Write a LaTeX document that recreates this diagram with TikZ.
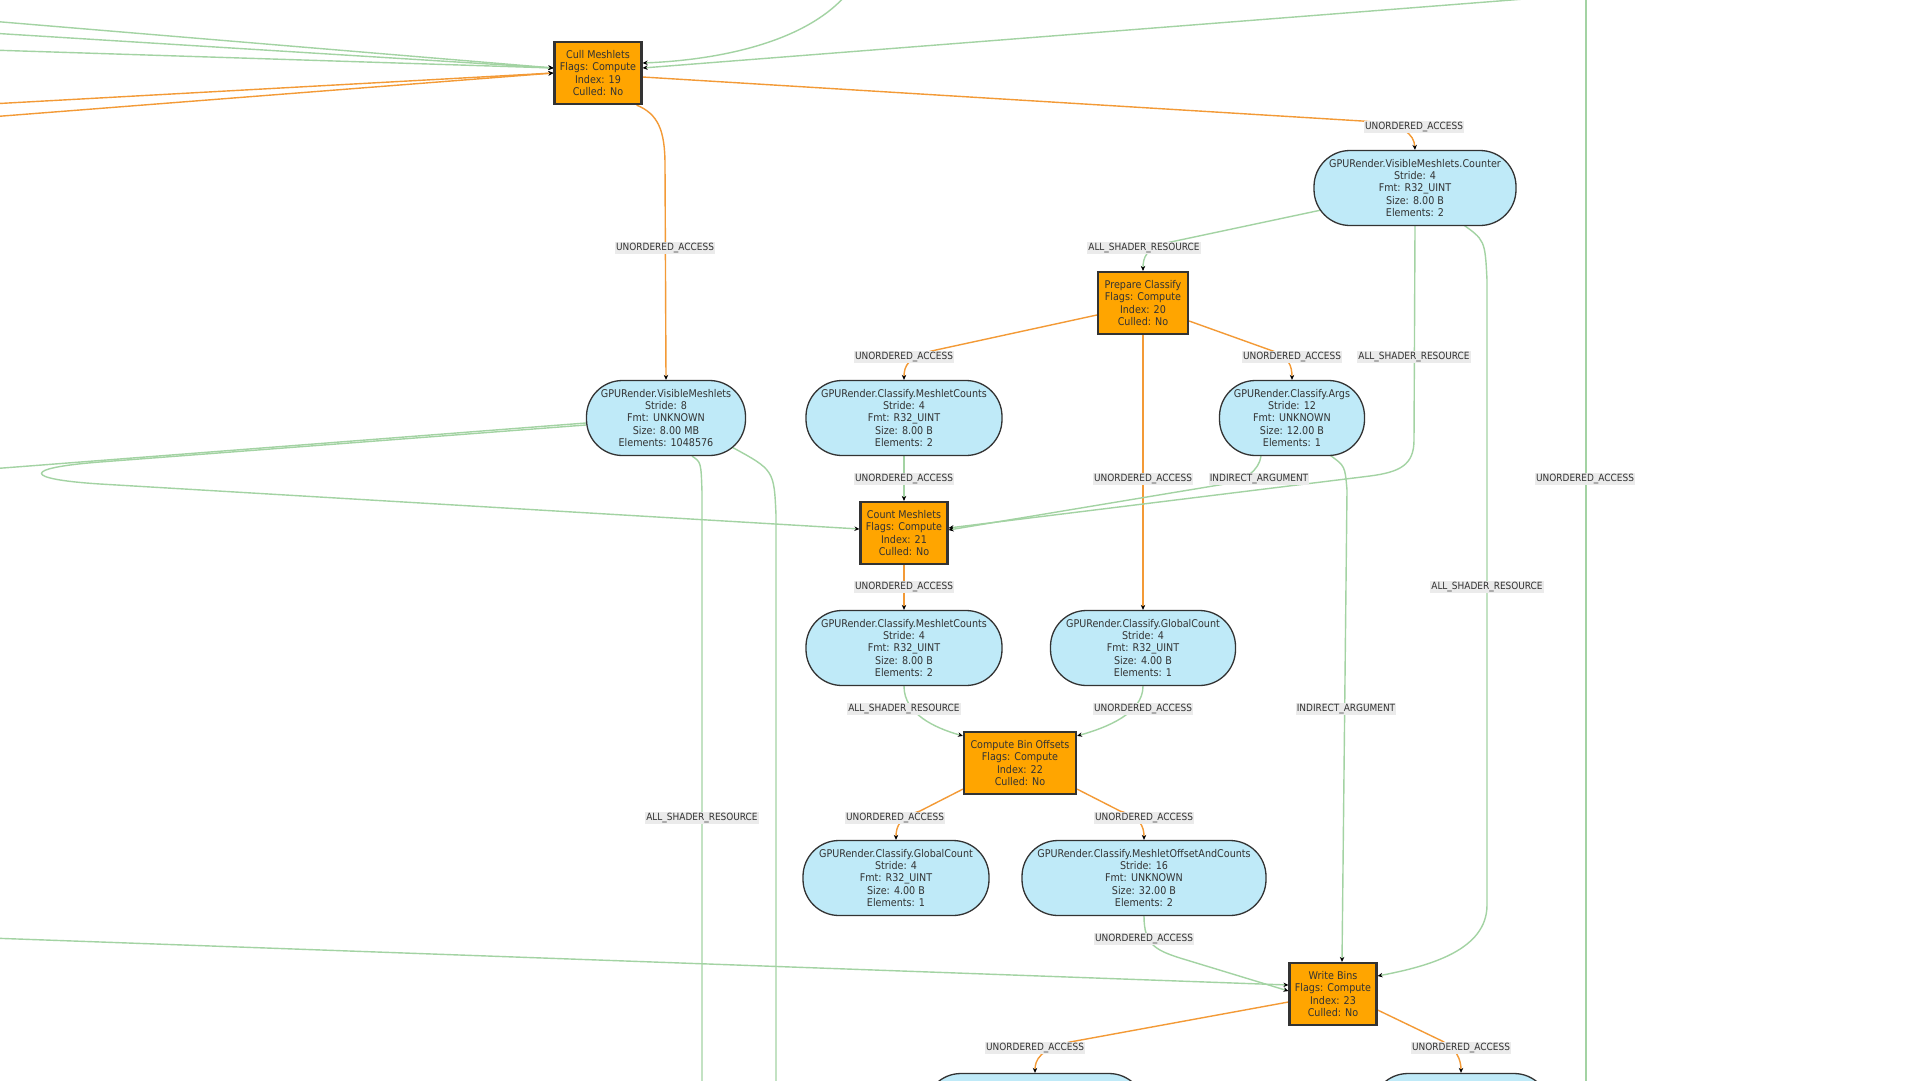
\documentclass[tikz,border=0pt]{standalone}
\usepackage{fontspec}
\setmainfont{DejaVu Sans Condensed}
\usetikzlibrary{arrows.meta,calc}
\definecolor{orfill}{HTML}{FFA500}
\definecolor{buffill}{HTML}{BFEAF8}
\definecolor{nborder}{HTML}{333333}
\definecolor{textc}{HTML}{333333}
\definecolor{edgeor}{HTML}{F39A36}
\definecolor{edgegr}{HTML}{A3D3A3}
\definecolor{lblbg}{HTML}{EBEBEB}
\newcommand\ndfont{\fontsize{10.7}{12.4}\selectfont}
\newcommand\lbfont{\fontsize{10}{11.5}\selectfont}
\pgfdeclarelayer{edgelayer}
\pgfsetlayers{edgelayer,main}
\tikzset{
  comp/.style={draw=nborder, line width=2.2bp, fill=orfill, text=textc, align=center,
    inner sep=0pt, font=\ndfont, minimum height=62bp},
  buf/.style={draw=nborder, line width=1.3bp, fill=buffill, rounded corners=36bp, align=center,
    inner sep=0pt, font=\ndfont, text=textc, minimum height=75bp},
  lbl/.style={fill=lblbg, text=textc, font=\lbfont, inner sep=1.2bp},
  oe/.style={draw=edgeor, line width=1.4bp, -{Stealth[length=5bp,width=4.5bp,color=black]}},
  ge/.style={draw=edgegr, line width=1.4bp, -{Stealth[length=5bp,width=4.5bp,color=black]}},
}
\begin{document}
\begin{tikzpicture}[x=1bp,y=-1bp]
\useasboundingbox (0,0) rectangle (1920,1080);
\clip (0,0) rectangle (1920,1080);

% ---------- nodes ----------
\node[comp, minimum width=87bp] (cull) at (598,73) {Cull Meshlets\\Flags: Compute\\Index: 19\\Culled: No};
\node[buf, minimum width=202bp] (counter) at (1415,188) {GPURender.VisibleMeshlets.Counter\\Stride: 4\\Fmt: R32\_UINT\\Size: 8.00 B\\Elements: 2};
\node[comp, minimum width=90bp] (prep) at (1143,303) {Prepare Classify\\Flags: Compute\\Index: 20\\Culled: No};
\node[buf, minimum width=159bp] (vis) at (666,418) {GPURender.VisibleMeshlets\\Stride: 8\\Fmt: UNKNOWN\\Size: 8.00 MB\\Elements: 1048576};
\node[buf, minimum width=196bp] (mc1) at (904,418) {GPURender.Classify.MeshletCounts\\Stride: 4\\Fmt: R32\_UINT\\Size: 8.00 B\\Elements: 2};
\node[buf, minimum width=145bp] (args) at (1292,418) {GPURender.Classify.Args\\Stride: 12\\Fmt: UNKNOWN\\Size: 12.00 B\\Elements: 1};
\node[comp, minimum width=87bp] (count) at (904,533) {Count Meshlets\\Flags: Compute\\Index: 21\\Culled: No};
\node[buf, minimum width=196bp] (mc2) at (904,648) {GPURender.Classify.MeshletCounts\\Stride: 4\\Fmt: R32\_UINT\\Size: 8.00 B\\Elements: 2};
\node[buf, minimum width=185bp] (gc1) at (1143,648) {GPURender.Classify.GlobalCount\\Stride: 4\\Fmt: R32\_UINT\\Size: 4.00 B\\Elements: 1};
\node[comp, minimum width=112bp] (cbo) at (1020,763) {Compute Bin Offsets\\Flags: Compute\\Index: 22\\Culled: No};
\node[buf, minimum width=186bp] (gc2) at (896,878) {GPURender.Classify.GlobalCount\\Stride: 4\\Fmt: R32\_UINT\\Size: 4.00 B\\Elements: 1};
\node[buf, minimum width=244bp] (moc) at (1144,878) {GPURender.Classify.MeshletOffsetAndCounts\\Stride: 16\\Fmt: UNKNOWN\\Size: 32.00 B\\Elements: 2};
\node[comp, minimum width=87bp] (wb) at (1333,994) {Write Bins\\Flags: Compute\\Index: 23\\Culled: No};
\node[buf, minimum width=220bp] (bl) at (1035,1111) {};
\node[buf, minimum width=178bp] (br) at (1461,1111) {};

% free ends
\coordinate (inG1) at (-10,21);
\coordinate (inG2) at (-10,33);
\coordinate (inG3) at (-10,50);
\coordinate (inO1) at (-10,104);
\coordinate (inO2) at (-10,117);
\coordinate (topA) at (846,-5);
\coordinate (topB) at (1550,-3);
\coordinate (visL) at (-10,469);
\coordinate (dn1) at (702,1100);
\coordinate (dn2) at (776,1100);
\coordinate (vtop) at (1586,-10);
\coordinate (vbot) at (1586,1100);
\coordinate (inL) at (-10,938);

% ---------- labels ----------
\node[lbl] (l1) at (1414,127) {UNORDERED\_ACCESS};
\node[lbl] (l2) at (665,248) {UNORDERED\_ACCESS};
\node[lbl] (l3) at (1144,248) {ALL\_SHADER\_RESOURCE};
\node[lbl] (l4) at (904,357) {UNORDERED\_ACCESS};
\node[lbl] (l5) at (1292,357) {UNORDERED\_ACCESS};
\node[lbl] (l6) at (1414,357) {ALL\_SHADER\_RESOURCE};
\node[lbl] (l7) at (904,479) {UNORDERED\_ACCESS};
\node[lbl] (l8) at (1143,479) {UNORDERED\_ACCESS};
\node[lbl] (l9) at (1259,479) {INDIRECT\_ARGUMENT};
\node[lbl] (l10) at (1585,479) {UNORDERED\_ACCESS};
\node[lbl] (l11) at (904,587) {UNORDERED\_ACCESS};
\node[lbl] (l12) at (1487,587) {ALL\_SHADER\_RESOURCE};
\node[lbl] (l13) at (904,709) {ALL\_SHADER\_RESOURCE};
\node[lbl] (l14) at (1143,709) {UNORDERED\_ACCESS};
\node[lbl] (l15) at (1346,709) {INDIRECT\_ARGUMENT};
\node[lbl] (l16) at (702,818) {ALL\_SHADER\_RESOURCE};
\node[lbl] (l17) at (895,818) {UNORDERED\_ACCESS};
\node[lbl] (l18) at (1144,818) {UNORDERED\_ACCESS};
\node[lbl] (l19) at (1144,939) {UNORDERED\_ACCESS};
\node[lbl] (l20) at (1035,1048) {UNORDERED\_ACCESS};
\node[lbl] (l21) at (1461,1048) {UNORDERED\_ACCESS};

% ---------- edges ----------
\begin{pgfonlayer}{edgelayer}
\clip (0,0) rectangle (1920,1080);
\fill[white] (0,0) rectangle (1920,1080);
% into Cull Meshlets from the left
\draw[ge] (inG1) -- ($(cull.west)+(0,-5)$);
\draw[ge] (inG2) -- ($(cull.west)+(0,-5)$);
\draw[ge] (inG3) -- ($(cull.west)+(0,-5)$);
\draw[oe] (inO1) -- ($(cull.west)+(0,0)$);
\draw[oe] (inO2) -- ($(cull.west)+(0,0)$);
% into Cull Meshlets from the top right
\draw[ge] (topA) .. controls (805,42) and (720,60) .. ($(cull.east)+(0,-10)$);
\draw[ge] (topB) -- ($(cull.east)+(0,-5)$);
% Cull -> Counter
\draw[oe] ($(cull.east)+(0,4)$) -- (1362,121) .. controls (1404,124) and (1414,134) .. (counter.north);
% Cull -> VisibleMeshlets
\draw[oe] ($(cull.south east)+(-6,0)$) .. controls (658,114) and (665,130) .. (665,165) -- (vis.north);
% Counter -> Prepare
\draw[ge] ($(counter.west)+(8,22)$) -- (1166,243) .. controls (1146,248) and (1143,258) .. (prep.north);
% Prepare -> MeshletCounts / Args / GlobalCount
\draw[oe] ($(prep.west)+(0,12)$) -- (936,350) .. controls (908,356) and (904,366) .. (mc1.north);
\draw[oe] ($(prep.east)+(0,18)$) -- (1270,350) .. controls (1289,356) and (1292,366) .. (args.north);
\draw[oe] (prep.south) -- (gc1.north);
% MeshletCounts -> Count Meshlets
\draw[ge] (mc1.south) -- (count.north);
% Count -> MeshletCounts 2
\draw[oe] (count.south) -- (mc2.north);
% Counter -> Count Meshlets
\draw[ge] (counter.south) -- (1414,440) .. controls (1414,465) and (1400,472) .. (1370,476) -- ($(count.east)+(0,-5)$);
% Args -> Count Meshlets
\draw[ge] ($(args.south)+(-31,0)$) .. controls (1259,470) and (1246,480) .. (1225,484) -- ($(count.east)+(0,-3)$);
% Args -> Write Bins
\draw[ge] ($(args.south)+(38,-1)$) .. controls (1345,466) .. (1347,490) -- ($(wb.north)+(9,0)$);
% Counter -> Write Bins
\draw[ge] ($(counter.south)+(46,-3)$) .. controls (1485,240) .. (1487,280) -- (1487,905) .. controls (1487,950) and (1430,966) .. ($(wb.east)+(0,-18)$);
% into Compute Bin Offsets
\draw[ge] (mc2.south) .. controls (904,714) and (935,728) .. ($(cbo.north west)+(0,5)$);
\draw[ge] (gc1.south) .. controls (1143,714) and (1105,728) .. ($(cbo.north east)+(0,5)$);
% out of Compute Bin Offsets
\draw[oe] ($(cbo.south west)+(0,-6)$) -- (920,811) .. controls (900,817) and (896,826) .. (gc2.north);
\draw[oe] ($(cbo.south east)+(0,-6)$) -- (1120,811) .. controls (1140,817) and (1144,826) .. (moc.north);
% MeshletOffsetAndCounts -> Write Bins
\draw[ge] (moc.south) .. controls (1144,944) and (1155,950) .. (1180,958) -- ($(wb.west)+(0,-3)$);
% far left -> Write Bins
\draw[ge] (inL) -- ($(wb.west)+(0,-9)$);
% Write Bins -> bottom buffers
\draw[oe] ($(wb.west)+(0,8)$) -- (1070,1042) .. controls (1040,1049) and (1035,1060) .. (bl.north);
\draw[oe] ($(wb.east)+(0,16)$) -- (1440,1040) .. controls (1457,1048) and (1461,1060) .. (br.north);
% VisibleMeshlets -> Count Meshlets (loop on the left)
\draw[ge] ($(vis.west)+(0,7)$) -- (100,462) .. controls (22,468) and (22,479) .. (100,484) -- ($(count.west)+(0,-4)$);
% VisibleMeshlets -> off to the left
\draw[ge] ($(vis.west)+(0,5)$) -- (visL);
% VisibleMeshlets -> downwards
\draw[ge] ($(vis.south)+(26,0)$) .. controls (701,462) .. (702,492) -- (dn1);
\draw[ge] ($(vis.south)+(66,-9)$) .. controls (774,470) .. (776,515) -- (dn2);
% long vertical edge
\draw[ge] (vtop) -- (vbot);
\end{pgfonlayer}
\end{tikzpicture}
\end{document}
